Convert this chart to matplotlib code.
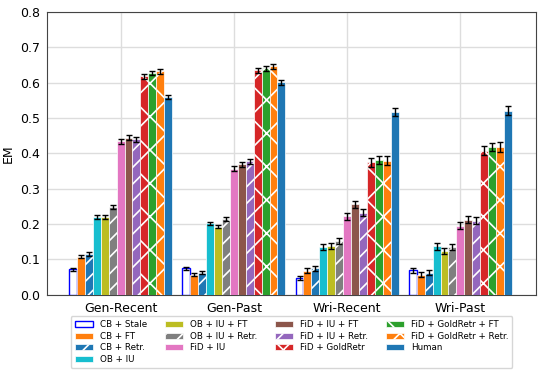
import matplotlib
matplotlib.use("Agg")
import matplotlib.pyplot as plt
import numpy as np

groups = ["Gen-Recent", "Gen-Past", "Wri-Recent", "Wri-Past"]
methods = ["CB + Stale", "CB + FT", "CB + Retr.", "OB + IU", "OB + IU + FT",
           "OB + IU + Retr.", "FiD + IU", "FiD + IU + FT", "FiD + IU + Retr.",
           "FiD + GoldRetr", "FiD + GoldRetr + FT", "FiD + GoldRetr + Retr.", "Human"]

gen_recent = [0.072, 0.108, 0.115, 0.220, 0.220, 0.248, 0.435, 0.445, 0.440, 0.618, 0.628, 0.632, 0.560]
gen_past   = [0.075, 0.057, 0.062, 0.202, 0.193, 0.215, 0.357, 0.370, 0.378, 0.636, 0.641, 0.646, 0.601]
wri_recent = [0.048, 0.068, 0.075, 0.135, 0.138, 0.152, 0.222, 0.256, 0.232, 0.375, 0.382, 0.380, 0.517]
wri_past   = [0.070, 0.057, 0.062, 0.137, 0.124, 0.136, 0.195, 0.212, 0.209, 0.408, 0.418, 0.418, 0.521]

err_gen_recent = [0.004, 0.004, 0.005, 0.005, 0.005, 0.006, 0.007, 0.007, 0.007, 0.007, 0.006, 0.006, 0.005]
err_gen_past   = [0.004, 0.004, 0.004, 0.005, 0.005, 0.005, 0.007, 0.007, 0.007, 0.007, 0.007, 0.007, 0.006]
err_wri_recent = [0.005, 0.007, 0.007, 0.009, 0.009, 0.009, 0.010, 0.010, 0.010, 0.012, 0.012, 0.012, 0.012]
err_wri_past   = [0.007, 0.007, 0.007, 0.009, 0.009, 0.009, 0.010, 0.010, 0.010, 0.012, 0.012, 0.013, 0.012]

colors = ["white", "tab:orange", "tab:blue", "tab:cyan", "tab:olive", "tab:gray",
          "tab:pink", "tab:brown", "tab:purple", "tab:red", "tab:green", "tab:orange", "tab:blue"]
hatches = [None, None, "//", None, None, "//", None, None, "//", "x", "x", "x", None]

values = np.array([gen_recent, gen_past, wri_recent, wri_past])
errors = np.array([err_gen_recent, err_gen_past, err_wri_recent, err_wri_past])

plt.rcParams["hatch.linewidth"] = 1.2
fig = plt.figure(figsize=(5.4, 3.77), dpi=100)
ax = fig.add_axes([0.087, 0.218, 0.906, 0.75])

x = np.arange(len(groups))
w = 0.07
n = len(methods)
for i, m in enumerate(methods):
    pos = x + (i - (n - 1) / 2) * w
    if i == 0:
        ec, lw = "blue", 1.0
    else:
        ec, lw = "white", 0.5
    ax.bar(pos, values[:, i], width=w, color=colors[i], edgecolor=ec,
           linewidth=lw, hatch=hatches[i], label=m, zorder=3)
    ax.errorbar(pos, values[:, i], yerr=errors[:, i], fmt="none", ecolor="black",
                elinewidth=1, capsize=2, capthick=1, zorder=4)

ax.set_xlim(-0.65, 3.67)
ax.set_ylim(0, 0.8)
ax.set_yticks(np.arange(0, 0.81, 0.1))
ax.set_xticks(x)
ax.set_xticklabels(groups, fontsize=9)
ax.tick_params(axis="y", labelsize=9, length=0, pad=5)
ax.tick_params(axis="x", length=0, pad=5)
ax.set_ylabel("EM", fontsize=9, labelpad=4)
ax.grid(True, color="#dddddd", linewidth=1, zorder=0)
ax.set_axisbelow(True)
for s in ax.spines.values():
    s.set_color("#444444")

ax.legend(loc="upper center", bbox_to_anchor=(0.5, -0.06), ncol=4, fontsize=6.3,
          frameon=True, edgecolor="#cccccc", handlelength=2.1, columnspacing=2.0,
          labelspacing=0.3, borderpad=0.45)

fig.savefig("out.png", dpi=100)
